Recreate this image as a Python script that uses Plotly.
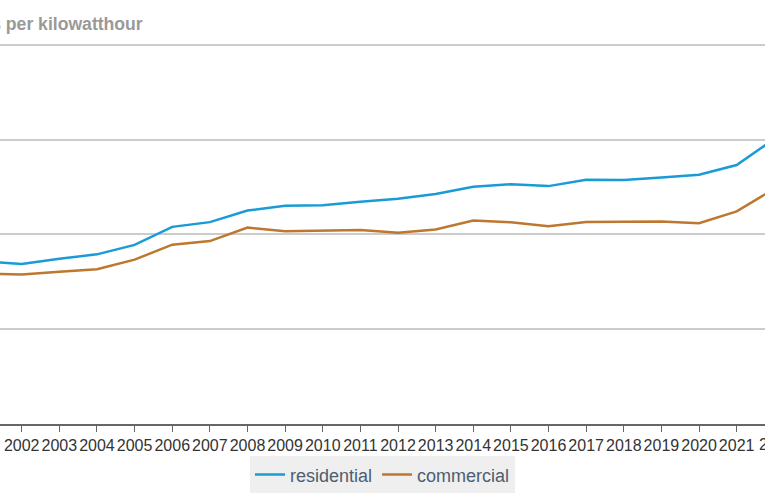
import plotly.graph_objects as go

years = list(range(2001, 2023))
residential = [8.58, 8.44, 8.72, 8.95, 9.45, 10.40, 10.65, 11.26, 11.51, 11.54, 11.72,
               11.88, 12.13, 12.52, 12.65, 12.55, 12.89, 12.87, 13.01, 13.15, 13.66, 15.04]
commercial = [7.92, 7.89, 8.03, 8.17, 8.67, 9.46, 9.65, 10.36, 10.17, 10.19, 10.24,
              10.09, 10.26, 10.74, 10.64, 10.43, 10.66, 10.67, 10.68, 10.59, 11.22, 12.41]

font = "Liberation Sans, Arial, sans-serif"

fig = go.Figure()
fig.add_trace(go.Scatter(x=years, y=residential, name="residential", mode="lines",
                         line=dict(color="#1a9bd6", width=2.5)))
fig.add_trace(go.Scatter(x=years, y=commercial, name="commercial", mode="lines",
                         line=dict(color="#bd772f", width=2.5)))

fig.update_layout(
    width=765, height=500,
    margin=dict(l=0, r=0, t=43, b=76),
    paper_bgcolor="white",
    plot_bgcolor="white",
    font=dict(family=font, size=16, color="#333333"),
    showlegend=True,
    legend=dict(orientation="h", x=0.5, xanchor="center", y=-0.085, yanchor="top",
                bgcolor="#efefef", font=dict(size=18, color="#4d5e70")),
    annotations=[
        dict(text="<b>cents per kilowatthour</b>", xref="paper", yref="paper",
             x=0.189, xanchor="right", y=1.0, yshift=19, yanchor="middle",
             showarrow=False, font=dict(size=17.6, color="#999999")),
        # label of the last year, mostly past the right edge
        dict(text="2022", xref="paper", yref="paper", x=0.9895, xanchor="left",
             y=0, yshift=-10, yanchor="top", showarrow=False,
             font=dict(size=16, color="#333333")),
    ]
)
fig.update_xaxes(range=[2001.423, 2021.753], tickvals=years, tickangle=0, showgrid=False,
                 showline=True, linecolor="#666666", linewidth=2,
                 ticks="outside", ticklen=6, tickcolor="#666666",
                 tickfont=dict(size=16, color="#333333"))
fig.update_yaxes(range=[0, 20.1], tickvals=[0, 5, 10, 15, 20], showticklabels=False,
                 showgrid=True, gridcolor="#cccccc", gridwidth=1.5, zeroline=False)

fig.write_html("out.html", config={"displayModeBar": False},
               post_script="document.body.style.margin='0';")
